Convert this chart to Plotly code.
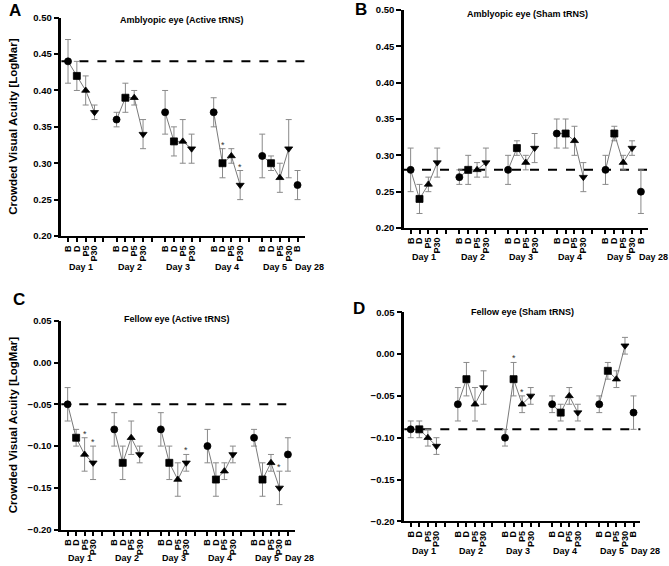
import plotly.graph_objects as go

# ---------------- data ----------------
days = ["Day 1", "Day 2", "Day 3", "Day 4", "Day 5", "Day 28"]
sessions = ["B", "D", "P5", "P30"]
tick_labels = sessions * 5 + ["B"]
symbols_cycle = ["circle", "square", "triangle-up", "triangle-down"]

A_title = "Amblyopic eye (Active tRNS)"
A_mean = [0.44, 0.42, 0.40, 0.37, 0.36, 0.39, 0.39, 0.34, 0.37, 0.33, 0.33, 0.32,
          0.37, 0.30, 0.31, 0.27, 0.31, 0.30, 0.28, 0.32, 0.27]
A_low = [0.41, 0.40, 0.38, 0.36, 0.35, 0.37, 0.38, 0.32, 0.34, 0.31, 0.30, 0.30,
         0.35, 0.28, 0.30, 0.25, 0.28, 0.29, 0.26, 0.28, 0.25]
A_high = [0.47, 0.44, 0.42, 0.38, 0.37, 0.41, 0.40, 0.36, 0.40, 0.35, 0.36, 0.34,
          0.39, 0.32, 0.32, 0.29, 0.34, 0.31, 0.30, 0.36, 0.29]
A_baseline = 0.44
A_sig = [13, 15]

B_title = "Amblyopic eye (Sham tRNS)"
B_mean = [0.28, 0.24, 0.26, 0.29, 0.27, 0.28, 0.28, 0.29, 0.28, 0.31, 0.29, 0.31,
          0.33, 0.33, 0.32, 0.27, 0.28, 0.33, 0.29, 0.31, 0.25]
B_low = [0.25, 0.22, 0.25, 0.27, 0.26, 0.26, 0.27, 0.27, 0.26, 0.30, 0.28, 0.29,
         0.31, 0.31, 0.30, 0.25, 0.26, 0.32, 0.28, 0.30, 0.22]
B_high = [0.31, 0.26, 0.27, 0.31, 0.28, 0.30, 0.29, 0.31, 0.30, 0.32, 0.30, 0.33,
          0.35, 0.35, 0.34, 0.29, 0.30, 0.34, 0.30, 0.32, 0.28]
B_baseline = 0.28
B_sig = []

C_title = "Fellow eye (Active tRNS)"
C_mean = [-0.05, -0.09, -0.11, -0.12, -0.08, -0.12, -0.09, -0.11, -0.08, -0.12, -0.14, -0.12,
          -0.10, -0.14, -0.13, -0.11, -0.09, -0.14, -0.12, -0.15, -0.11]
C_low = [-0.07, -0.10, -0.13, -0.14, -0.10, -0.14, -0.11, -0.12, -0.10, -0.14, -0.16, -0.13,
         -0.12, -0.16, -0.14, -0.12, -0.10, -0.16, -0.13, -0.17, -0.13]
C_high = [-0.03, -0.08, -0.09, -0.10, -0.06, -0.10, -0.07, -0.10, -0.06, -0.10, -0.12, -0.11,
          -0.08, -0.12, -0.12, -0.10, -0.08, -0.12, -0.11, -0.13, -0.09]
C_baseline = -0.05
C_sig = [2, 3, 11, 19]

D_title = "Fellow eye (Sham tRNS)"
D_mean = [-0.09, -0.09, -0.10, -0.11, -0.06, -0.03, -0.06, -0.04, -0.10, -0.03, -0.06, -0.05,
          -0.06, -0.07, -0.05, -0.07, -0.06, -0.02, -0.03, 0.01, -0.07]
D_low = [-0.10, -0.10, -0.11, -0.12, -0.08, -0.05, -0.08, -0.06, -0.11, -0.05, -0.07, -0.06,
         -0.07, -0.08, -0.06, -0.08, -0.07, -0.03, -0.04, 0.00, -0.09]
D_high = [-0.08, -0.08, -0.09, -0.10, -0.04, -0.01, -0.04, -0.02, -0.09, -0.01, -0.05, -0.04,
          -0.05, -0.06, -0.04, -0.06, -0.05, -0.01, -0.02, 0.02, -0.05]
D_baseline = -0.09
D_sig = [9, 10]

y_ranges = {"A": [0.20, 0.50], "B": [0.20, 0.50], "C": [-0.20, 0.05], "D": [-0.20, 0.05]}

# ---------------- layout helpers ----------------
W, H = 669, 566
GROUP_STEP = 5.5
x_pos = [d * GROUP_STEP + k for d in range(5) for k in range(4)] + [4 * GROUP_STEP + 4]
gap_ticks = [d * GROUP_STEP + 4 for d in range(4)]
X_RANGE = [-0.75, 26.8]

FONT = "Liberation Sans, Arial, sans-serif"
GRAY_ERR = "#8a8a8a"
GRAY_LINE = "#7a7a7a"

# pixel boxes of each plotting area: (left, right, top, bottom)
boxes = {
    "A": (61.4, 304.6, 17.7, 236.0),
    "B": (404.0, 648.0, 10.0, 228.0),
    "C": (61.3, 294.7, 320.7, 529.7),
    "D": (404.3, 640.4, 312.3, 521.3),
}
day_label_y = {"A": 267, "B": 257, "C": 558, "D": 551}
title_pos = {"A": (182, 20), "B": (527, 14), "C": (177, 319), "D": (522, 312)}
letter_pos = {"A": (15, 10), "B": (361, 9), "C": (19, 299), "D": (359, 308)}

panels = {
    "A": (A_title, A_mean, A_low, A_high, A_baseline, A_sig),
    "B": (B_title, B_mean, B_low, B_high, B_baseline, B_sig),
    "C": (C_title, C_mean, C_low, C_high, C_baseline, C_sig),
    "D": (D_title, D_mean, D_low, D_high, D_baseline, D_sig),
}

fig = go.Figure()
layout = dict(
    width=W, height=H, margin=dict(l=0, r=0, t=0, b=0, autoexpand=False),
    paper_bgcolor="white", plot_bgcolor="white", showlegend=False,
    font=dict(family=FONT, color="black"),
)
annotations = []
shapes = []

tickvals = x_pos[:20] + gap_ticks + [x_pos[20]]
ticktext = tick_labels[:20] + [""] * len(gap_ticks) + [tick_labels[20]]

for i, key in enumerate(["A", "B", "C", "D"]):
    title, mean, low, high, base, sig = panels[key]
    n = i + 1
    xa = "x" if n == 1 else f"x{n}"
    ya = "y" if n == 1 else f"y{n}"
    l, r, t, b = boxes[key]

    layout["xaxis" if n == 1 else f"xaxis{n}"] = dict(
        domain=[l / W, r / W], range=X_RANGE, anchor=ya, automargin=False,
        showline=True, linecolor="black", linewidth=2,
        showgrid=False, zeroline=False,
        tickmode="array", tickvals=tickvals, ticktext=ticktext,
        ticks="outside", ticklen=4, tickwidth=1.5, tickcolor="black",
        tickangle=-90, tickfont=dict(size=9, family=FONT, weight="bold"),
    )
    layout["yaxis" if n == 1 else f"yaxis{n}"] = dict(
        domain=[1 - b / H, 1 - t / H], range=y_ranges[key], anchor=xa, automargin=False,
        showline=True, linecolor="black", linewidth=2.5,
        showgrid=False, zeroline=False,
        dtick=0.05, tick0=0, tickformat=".2f",
        ticks="outside", ticklen=5, tickwidth=2, tickcolor="black",
        tickfont=dict(size=9.5, family=FONT, weight="bold"),
    )

    # error bars (own trace, drawn beneath markers)
    fig.add_trace(go.Scatter(
        x=x_pos, y=mean, mode="markers", xaxis=xa, yaxis=ya, cliponaxis=False,
        marker=dict(size=1, color="rgba(0,0,0,0)"), hoverinfo="skip",
        error_y=dict(type="data", symmetric=False,
                     array=[h - m for h, m in zip(high, mean)],
                     arrayminus=[m - lo for m, lo in zip(mean, low)],
                     color=GRAY_ERR, thickness=1, width=3),
    ))

    # connecting lines within each day
    lx, ly = [], []
    for d in range(5):
        for k in range(4):
            lx.append(x_pos[d * 4 + k])
            ly.append(mean[d * 4 + k])
        lx.append(None)
        ly.append(None)
    fig.add_trace(go.Scatter(x=lx, y=ly, mode="lines", xaxis=xa, yaxis=ya,
                             line=dict(color=GRAY_LINE, width=1), hoverinfo="skip"))

    # baseline dashed
    shapes.append(dict(type="line", xref=f"{xa} domain", yref=ya, x0=0, x1=1,
                       y0=base, y1=base, line=dict(color="black", width=2, dash="dash"),
                       layer="below"))

    symbols = symbols_cycle * 5 + ["circle"]
    fig.add_trace(go.Scatter(
        x=x_pos, y=mean, mode="markers", xaxis=xa, yaxis=ya, cliponaxis=False,
        marker=dict(symbol=symbols, size=7, color="black",
                    line=dict(color="black", width=0.8)),
    ))

    # significance asterisks
    for idx in sig:
        annotations.append(dict(x=x_pos[idx], y=high[idx], xref=xa, yref=ya,
                                text="*", showarrow=False, yanchor="bottom", yshift=-3,
                                font=dict(size=9, family=FONT, color="#333")))

    # day labels (paper coordinates so the Day 28 label can sit past the axis end)
    unit = (r - l) / (X_RANGE[1] - X_RANGE[0])
    for d in range(6):
        cx = d * GROUP_STEP + 1.5 if d < 5 else x_pos[20] + 1.4
        px = l + (cx - X_RANGE[0]) * unit
        annotations.append(dict(x=px / W, y=1 - day_label_y[key] / H, xref="paper", yref="paper",
                                text=days[d], showarrow=False, xanchor="center", yanchor="middle",
                                font=dict(size=9, family=FONT, weight="bold")))

    tx, ty = title_pos[key]
    annotations.append(dict(x=tx / W, y=1 - ty / H, xref="paper", yref="paper", text=title,
                            showarrow=False, xanchor="center", yanchor="middle",
                            font=dict(size=9, family=FONT, weight="bold")))
    lxp, lyp = letter_pos[key]
    annotations.append(dict(x=lxp / W, y=1 - lyp / H, xref="paper", yref="paper", text=key,
                            showarrow=False, xanchor="center", yanchor="middle",
                            font=dict(size=17, family=FONT, weight="bold")))

# y-axis titles (left panels)
for key in ["A", "C"]:
    l, r, t, b = boxes[key]
    annotations.append(dict(x=13 / W, y=1 - ((t + b) / 2) / H, xref="paper", yref="paper",
                            text="Crowded Visual Acuity [LogMar]", textangle=-90,
                            showarrow=False, xanchor="center", yanchor="middle",
                            font=dict(size=11.5, family=FONT, weight="bold")))

layout["annotations"] = annotations
layout["shapes"] = shapes
fig.update_layout(**layout)
fig.write_html(
    "out.html",
    config={"displayModeBar": False},
    post_script="document.body.style.margin='0';document.body.style.padding='0';",
)
